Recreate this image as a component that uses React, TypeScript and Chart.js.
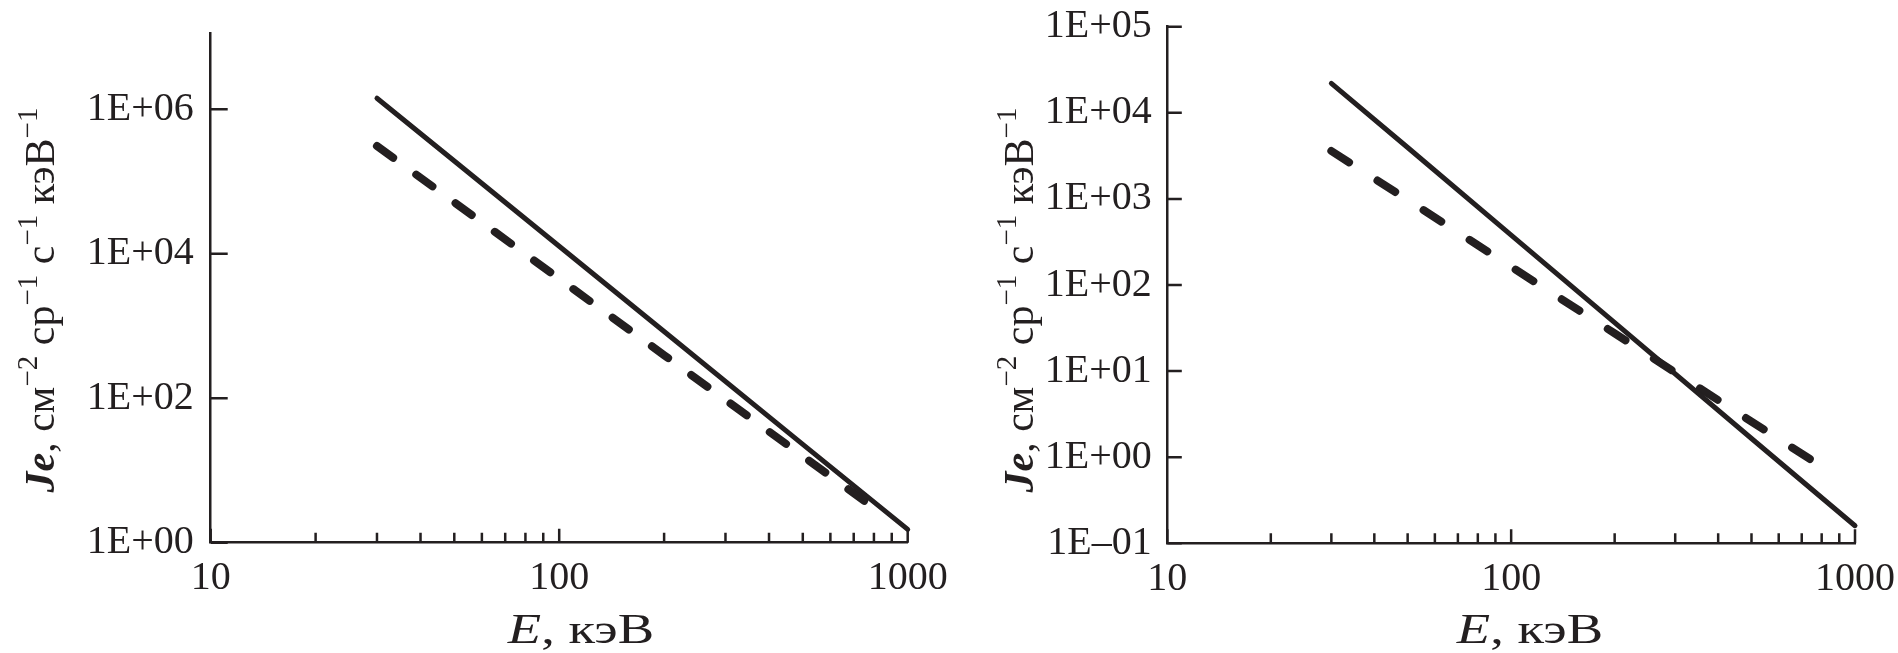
import React, { useEffect, useRef } from 'react';
import { Chart, registerables } from 'chart.js';

Chart.register(...registerables);

// ---------- data ----------
const energyLeftSolid = [30, 50, 100, 200, 500, 1000];
const fluxLeftSolid = [1.42e6, 1.92e5, 1.27e4, 840, 23, 1.53];
const energyLeftDashed = [30, 50, 100, 200, 500, 750];
const fluxLeftDashed = [3.1e5, 5.15e4, 4.5e3, 394, 15.8, 3.8];

const energyRightSolid = [30, 50, 100, 200, 500, 1000];
const fluxRightSolid = [2.2e4, 3.95e3, 379, 36.5, 1.65, 0.16];
const energyRightDashed = [30, 50, 100, 200, 500, 740];
const fluxRightDashed = [3.6e3, 973, 163, 27.4, 2.59, 0.95];

const xTickValues = [10, 20, 30, 40, 50, 60, 70, 80, 90, 100, 200, 300, 400, 500, 600, 700, 800, 900, 1000];
const xTickLabels = ['10', '', '', '', '', '', '', '', '', '100', '', '', '', '', '', '', '', '', '1000'];

const yTickValuesLeft = [1, 100, 1e4, 1e6];
const yTickLabelsLeft = ['1E+00', '1E+02', '1E+04', '1E+06'];
const yTickValuesRight = [0.1, 1, 10, 100, 1e3, 1e4, 1e5];
const yTickLabelsRight = ['1E\u201301', '1E+00', '1E+01', '1E+02', '1E+03', '1E+04', '1E+05'];

const xTitleItalic = 'E';
const xTitleRest = ', кэВ';
const yTitleParts = [
  { text: 'Je', kind: 'bi' },
  { text: ', см', kind: 'n' },
  { text: '\u22122', kind: 's' },
  { text: ' ср', kind: 'n' },
  { text: '\u22121', kind: 's' },
  { text: ' с', kind: 'n' },
  { text: '\u22121', kind: 's' },
  { text: ' кэВ', kind: 'n' },
  { text: '\u22121', kind: 's' },
];

const INK = '#231f20';
const FAMILY = '"Liberation Serif", "Times New Roman", serif';

type Panel = {
  eSolid: number[]; jSolid: number[]; eDashed: number[]; jDashed: number[];
  yMin: number; yMax: number; yTicks: number[]; yLabels: string[];
  padRight: number; padTop: number; yAxisWidth: number; xAxisHeight: number;
  yTickLen: number; dash: number[];
  xTitleX: number; xTitleY: number; yTitleX: number; yTitleY: number;
  yLabelPad: number;
};

const panels: Panel[] = [
  {
    eSolid: energyLeftSolid, jSolid: fluxLeftSolid, eDashed: energyLeftDashed, jDashed: fluxLeftDashed,
    yMin: 1, yMax: 1.14e7, yTicks: yTickValuesLeft, yLabels: yTickLabelsLeft,
    padRight: 41.3, padTop: 32.9, yAxisWidth: 210.7, xAxisHeight: 110.3,
    yTickLen: 17, dash: [20, 28.6],
    xTitleX: 581, xTitleY: 643, yTitleX: 54, yTitleY: 300, yLabelPad: 17,
  },
  {
    eSolid: energyRightSolid, jSolid: fluxRightSolid, eDashed: energyRightDashed, jDashed: fluxRightDashed,
    yMin: 0.1, yMax: 1e5, yTicks: yTickValuesRight, yLabels: yTickLabelsRight,
    padRight: 43, padTop: 26.7, yAxisWidth: 218.3, xAxisHeight: 109.7,
    yTickLen: 14.5, dash: [21, 33.8],
    xTitleX: 581, xTitleY: 643, yTitleX: 84, yTitleY: 300, yLabelPad: 15.6,
  },
];

function makeDecorPlugin(p: Panel) {
  return {
    id: 'panelDecor',
    afterDraw(chart: any) {
      const ctx = chart.ctx as CanvasRenderingContext2D;
      const xs = chart.scales.x;
      const ys = chart.scales.y;
      const { left, bottom } = chart.chartArea;
      ctx.save();
      ctx.strokeStyle = INK;
      ctx.lineWidth = 2.5;
      ctx.lineCap = 'butt';
      ctx.beginPath();
      xTickValues.forEach((v, i) => {
        const px = xs.getPixelForValue(v);
        const len = xTickLabels[i] ? 14 : 10;
        ctx.moveTo(px, bottom);
        ctx.lineTo(px, bottom - len);
      });
      p.yTicks.forEach((v) => {
        const py = ys.getPixelForValue(v);
        ctx.moveTo(left, py);
        ctx.lineTo(left + p.yTickLen, py);
      });
      ctx.stroke();

      // x title
      ctx.fillStyle = INK;
      ctx.textBaseline = 'alphabetic';
      const fItal = `italic 42px ${FAMILY}`;
      const fNorm = `42px ${FAMILY}`;
      ctx.font = fItal;
      const w1 = ctx.measureText(xTitleItalic).width;
      ctx.font = fNorm;
      const w2 = ctx.measureText(xTitleRest).width;
      const sx = 1.3;
      ctx.save();
      ctx.translate(p.xTitleX, p.xTitleY);
      ctx.scale(sx, 1);
      const x0 = -(w1 + w2) / 2;
      ctx.font = fItal;
      ctx.fillText(xTitleItalic, x0, 0);
      ctx.font = fNorm;
      ctx.fillText(xTitleRest, x0 + w1, 0);
      ctx.restore();

      // y title (rotated)
      const fontFor = (k: string) =>
        k === 'bi' ? `bold italic 42px ${FAMILY}` : k === 's' ? `29px ${FAMILY}` : `42px ${FAMILY}`;
      let total = 0;
      const widths = yTitleParts.map((part) => {
        ctx.font = fontFor(part.kind);
        const w = ctx.measureText(part.text).width;
        total += w;
        return w;
      });
      ctx.save();
      ctx.translate(p.yTitleX, p.yTitleY);
      ctx.rotate(-Math.PI / 2);
      let cx = -total / 2;
      yTitleParts.forEach((part, i) => {
        ctx.font = fontFor(part.kind);
        ctx.fillText(part.text, cx, part.kind === 's' ? -17 : 0);
        cx += widths[i];
      });
      ctx.restore();
      ctx.restore();
    },
  };
}

function PanelChart({ p, left }: { p: Panel; left: number }) {
  const ref = useRef<HTMLCanvasElement | null>(null);
  useEffect(() => {
    if (!ref.current) return;
    const chart = new Chart(ref.current, {
      type: 'line',
      data: {
        datasets: [
          {
            data: p.eSolid.map((e, i) => ({ x: e, y: p.jSolid[i] })),
            borderColor: INK,
            borderWidth: 5,
            pointRadius: 0,
            tension: 0,
            fill: false,
            clip: 12,
            borderCapStyle: 'round',
          } as any,
          {
            data: p.eDashed.map((e, i) => ({ x: e, y: p.jDashed[i] })),
            borderColor: INK,
            borderWidth: 8,
            borderDash: p.dash,
            borderCapStyle: 'round',
            pointRadius: 0,
            tension: 0,
            fill: false,
            clip: 12,
          } as any,
        ],
      },
      options: {
        animation: false,
        responsive: false,
        events: [],
        layout: { padding: { left: 0, right: p.padRight, top: p.padTop, bottom: 0 } },
        plugins: { legend: { display: false }, tooltip: { enabled: false }, title: { display: false } },
        scales: {
          x: {
            type: 'logarithmic',
            min: 10,
            max: 1000,
            afterBuildTicks: (scale: any) => {
              scale.ticks = xTickValues.map((v) => ({ value: v }));
            },
            afterFit: (scale: any) => {
              scale.height = p.xAxisHeight;
              scale.paddingLeft = 0;
              scale.paddingRight = 0;
              scale.paddingTop = 0;
              scale.paddingBottom = 0;
            },
            grid: { display: false, drawTicks: false },
            border: { display: true, color: INK, width: 2.5 },
            ticks: {
              autoSkip: false,
              maxRotation: 0,
              minRotation: 0,
              padding: 12,
              color: INK,
              font: { family: FAMILY, size: 40 },
              callback: (_v: any, i: number) => xTickLabels[i],
            },
          },
          y: {
            type: 'logarithmic',
            min: p.yMin,
            max: p.yMax,
            afterBuildTicks: (scale: any) => {
              scale.ticks = p.yTicks.map((v) => ({ value: v }));
            },
            afterFit: (scale: any) => {
              scale.width = p.yAxisWidth;
              scale.paddingLeft = 0;
              scale.paddingRight = 0;
              scale.paddingTop = 0;
              scale.paddingBottom = 0;
            },
            grid: { display: false, drawTicks: false },
            border: { display: true, color: INK, width: 2.5 },
            ticks: {
              autoSkip: false,
              padding: p.yLabelPad,
              color: INK,
              font: { family: FAMILY, size: 40 },
              callback: (_v: any, i: number) => p.yLabels[i],
            },
          },
        },
      } as any,
      plugins: [makeDecorPlugin(p)],
    });
    return () => chart.destroy();
  }, [p]);
  return (
    <canvas
      ref={ref}
      width={949}
      height={653}
      style={{ position: 'absolute', left, top: 0, width: 949, height: 653, display: 'block' }}
    />
  );
}

export default function App() {
  return (
    <div style={{ position: 'absolute', left: 0, top: 0, width: 1898, height: 653, background: '#fff' }}>
      <PanelChart p={panels[0]} left={0} />
      <PanelChart p={panels[1]} left={949} />
    </div>
  );
}
